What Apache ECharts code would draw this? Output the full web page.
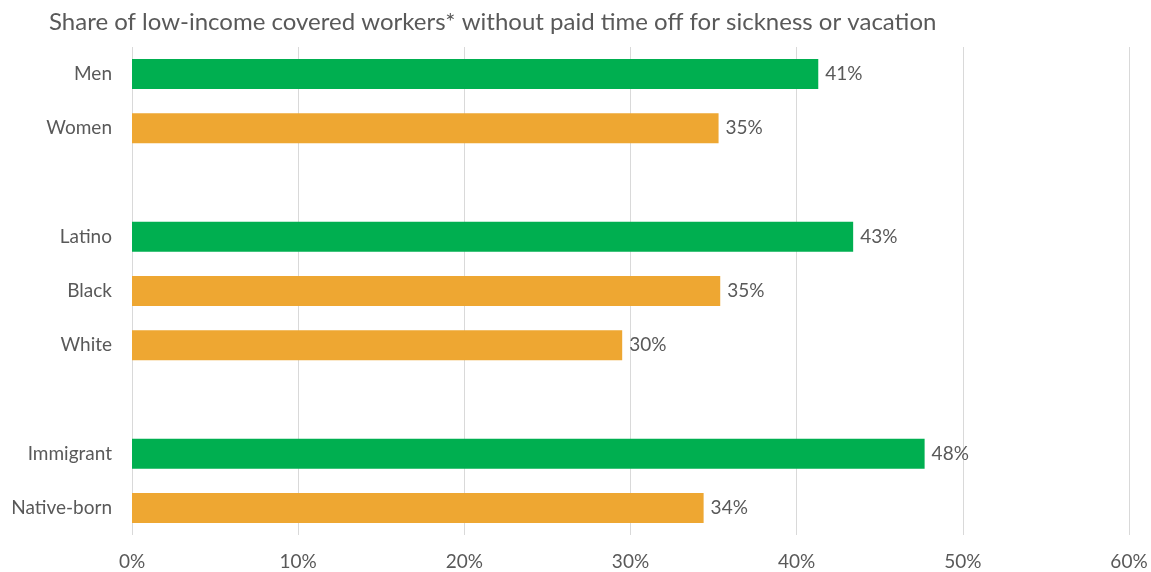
<!DOCTYPE html>
<html>
<head>
<meta charset="utf-8">
<script src="https://cdn.jsdelivr.net/npm/echarts@6/dist/echarts.min.js"></script>
<style>
  html, body { margin: 0; padding: 0; background: #fff; }
  #chart { width: 1151px; height: 572px; }
</style>
</head>
<body>
<div id="chart"></div>
<script>
// Groups separated by blank rows
const categories = ['Men', 'Women', '', 'Latino', 'Black', 'White', '', 'Immigrant', 'Native-born'];
// Share without paid time off (%), null for spacer rows
const shares = [41.3, 35.3, null, 43.4, 35.4, 29.5, null, 47.7, 34.4];
// Highlight row in each group is green, comparison rows orange
const rowKinds = ['lead', 'other', null, 'lead', 'other', 'other', null, 'lead', 'other'];
const xTicks = [0, 10, 20, 30, 40, 50, 60];

const colors = { lead: '#00AF50', other: '#EEA732' };
const fontFamily = 'Lato, "Open Sans", sans-serif';
const textColor = '#595959';

const chart = echarts.init(document.getElementById('chart'), null, { renderer: 'canvas' });

chart.setOption({
  animation: false,
  backgroundColor: '#ffffff',
  title: {
    text: 'Share of low-income covered workers* without paid time off for sickness or vacation',
    left: 44,
    top: 5,
    textStyle: { fontFamily, fontSize: 24, fontWeight: 'normal', color: textColor }
  },
  grid: { left: 132, right: 22, top: 47, bottom: 37, containLabel: false },
  xAxis: {
    type: 'value',
    min: xTicks[0],
    max: xTicks[xTicks.length - 1],
    interval: 10,
    axisLine: { show: false },
    axisTick: { show: false },
    splitLine: { lineStyle: { color: '#d9d9d9', width: 1 } },
    axisLabel: {
      formatter: v => v + '%',
      margin: 17,
      fontFamily, fontSize: 19, color: textColor
    }
  },
  yAxis: {
    type: 'category',
    inverse: true,
    data: categories,
    axisLine: { show: false },
    axisTick: { show: false },
    axisLabel: { margin: 20, fontFamily, fontSize: 19, color: textColor }
  },
  series: [{
    type: 'bar',
    barWidth: 30,
    data: shares.map((v, i) => ({
      value: v,
      itemStyle: { color: rowKinds[i] ? colors[rowKinds[i]] : 'transparent' }
    })),
    label: {
      show: true,
      position: 'right',
      distance: 7,
      formatter: p => (p.value == null ? '' : Math.round(p.value) + '%'),
      fontFamily, fontSize: 19, color: textColor
    }
  }]
});
</script>
</body>
</html>
